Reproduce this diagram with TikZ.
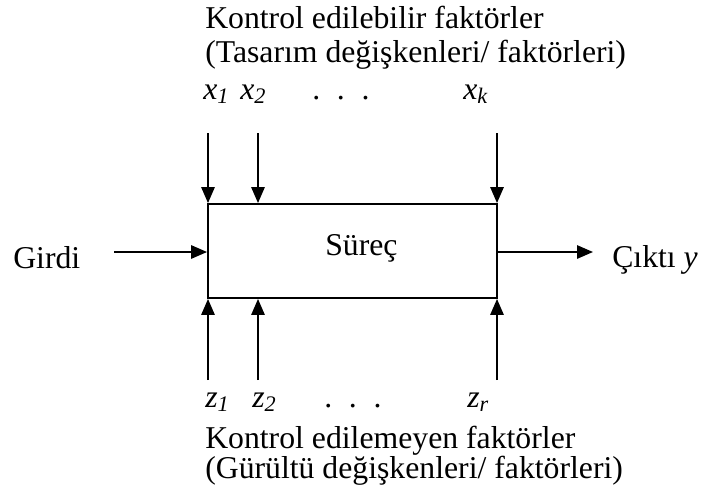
\documentclass[tikz,border=0pt]{standalone}
\usepackage{fontspec}
\setmainfont{Liberation Serif}
\usetikzlibrary{arrows.meta,positioning}
\newcommand{\fvar}[2]{\textit{#1}\textsubscript{\textit{#2}}}
\newcommand{\ucnokta}{\makebox[18.5pt][l]{.}\makebox[18.5pt][l]{.}.}
\tikzset{
    okucu/.style={line width=1.4pt,-{Triangle[length=12pt,width=10pt]}},
    etiket/.style={inner sep=0pt,anchor=base west},
}
\begin{document}
\begin{tikzpicture}[x=0.75pt,y=-0.75pt,font=\fontsize{23.8}{28}\selectfont]
            \useasboundingbox (0,0) rectangle (705,493);
            \node[draw, line width=1.4pt, minimum width=216.75pt, minimum height=70.5pt,
                inner sep=0pt] (surec) at (352.5,251) {};
            \node[etiket] (surec-t) at (325,255) {Süreç};
            % kontrol edilebilir faktorler
            \node[etiket] (ust-1) at (205,28) {Kontrol edilebilir faktörler};
            \node[etiket] (ust-2) at (205,62) {(Tasarım değişkenleri/ faktörleri)};
            \foreach[count=\i] \xpos/\lpos/\lab in {208/203/{\fvar{x}{1}},258/240/{\fvar{x}{2}},497/463/{\fvar{x}{k}}} {
                \node[etiket] (x-\i) at (\lpos,99) {\lab};
                \coordinate (xs-\i) at (\xpos,133);
                \draw[okucu] (xs-\i) -- (xs-\i |- surec.north);
            }
            \node[etiket] (x-dots) at (312,99) {\ucnokta};
            % kontrol edilemeyen faktorler
            \foreach[count=\i] \xpos/\lpos/\lab in {208/205/{\fvar{z}{1}},258/252/{\fvar{z}{2}},497/467/{\fvar{z}{r}}} {
                \node[etiket] (z-\i) at (\lpos,407) {\lab};
                \coordinate (zs-\i) at (\xpos,380);
                \draw[okucu] (zs-\i) -- (zs-\i |- surec.south);
            }
            \node[etiket] (z-dots) at (324,407) {\ucnokta};
            \node[etiket] (alt-1) at (205,448) {Kontrol edilemeyen faktörler};
            \node[etiket] (alt-2) at (205,478) {(Gürültü değişkenleri/ faktörleri)};
            % girdi / cikti
            \node[etiket] (girdi) at (13,268) {Girdi};
            \coordinate (gs) at (114,252);
            \draw[okucu] (gs) -- (gs -| surec.west);
            \node[etiket] (cikti) at (612,267) {Çıktı \textit{y}};
            \coordinate (ce) at (593,252);
            \draw[okucu] (ce -| surec.east) -- (ce);
        \end{tikzpicture}
\end{document}
